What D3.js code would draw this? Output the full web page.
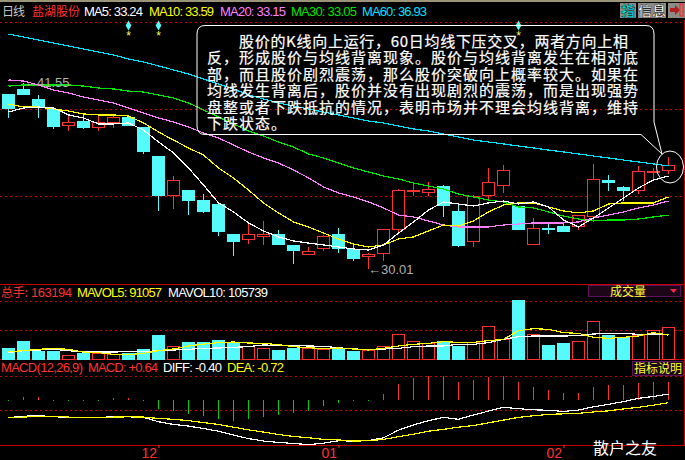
<!DOCTYPE html>
<html>
<head>
<meta charset="utf-8">
<script src="https://cdn.jsdelivr.net/npm/d3@7"></script>
<style>
html, body { margin: 0; padding: 0; background: #000; overflow: hidden; }
svg { display: block; }
text { font-family: "Liberation Sans", Arial, sans-serif; }
.cjk { font-family: "Noto Sans CJK SC", sans-serif; }
</style>
</head>
<body>
<div id="chart"></div>
<script>
// candle data, one entry per trading day
const opens = [40.81,41.12,40.50,39.88,38.94,39.19,38.82,39.07,39.38,38.76,36.96,34.54,34.85,34.23,34.04,32.12,31.81,32.00,32.12,31.44,30.88,31.31,32.12,31.25,30.76,31.00,32.49,34.85,34.73,35.10,33.55,31.69,34.54,35.22,33.86,31.56,32.55,32.62,32.62,33.24,35.53,35.04,34.85,36.06,36.15];
const highs = [40.81,41.55,40.81,40.06,39.50,39.57,39.50,39.63,39.57,38.82,36.96,35.78,34.85,34.66,34.17,32.18,32.80,32.99,32.43,31.44,31.38,32.12,32.55,31.50,31.00,32.49,34.97,35.28,35.41,35.22,34.11,34.60,36.28,36.46,33.86,33.18,32.80,32.80,33.30,36.53,35.84,35.16,36.40,36.28,36.96];
const lows = [39.38,40.81,39.38,38.70,38.57,38.70,38.57,38.76,38.94,37.15,33.61,33.73,33.36,33.49,32.06,30.82,31.56,31.50,31.50,30.32,30.88,31.13,31.00,30.51,30.01,30.51,32.18,34.54,34.54,33.24,31.38,31.38,34.35,34.73,32.49,31.56,32.18,32.31,32.43,33.05,34.85,34.23,34.66,35.53,35.90];
const closes = [39.94,40.81,40.00,38.88,39.13,38.82,39.07,39.38,38.94,37.27,34.60,35.53,34.29,33.55,32.31,31.69,32.12,32.18,31.50,31.13,31.07,32.00,31.31,30.69,30.88,32.43,34.91,34.91,34.97,33.98,31.44,34.48,35.35,36.15,32.49,32.55,32.49,32.31,33.30,35.59,35.35,34.85,36.03,36.09,36.46];

const ma5 = [39.75,40.00,40.06,40.00,39.57,39.38,39.01,39.01,39.07,38.63,37.89,37.21,36.28,35.22,34.11,33.55,32.87,32.37,32.00,31.75,31.62,31.50,31.38,31.25,31.19,31.50,32.24,32.93,33.67,34.17,34.04,33.92,34.11,34.23,34.04,34.17,33.86,33.05,32.62,33.18,33.80,34.42,35.04,35.53,35.78];
const ma10 = [40.25,40.06,40.06,39.94,39.81,39.63,39.57,39.57,39.50,39.07,38.51,38.01,37.52,37.08,36.28,35.66,34.91,34.11,33.49,32.93,32.62,32.24,31.87,31.56,31.38,31.50,31.87,32.00,32.37,32.74,32.68,32.99,33.55,33.98,34.11,34.11,33.86,33.61,33.49,33.61,34.04,34.11,34.11,34.11,34.48];
const ma20 = [41.74,41.67,41.43,41.12,40.93,40.68,40.50,40.31,40.00,39.69,39.38,39.13,38.82,38.45,38.14,37.70,37.27,36.90,36.59,36.15,35.66,35.10,34.73,34.48,34.17,33.80,33.36,33.24,32.99,32.74,32.62,32.62,32.62,32.74,32.80,32.87,32.87,32.87,32.93,33.18,33.36,33.55,33.80,33.98,34.23];
const ma30 = [41.36,41.43,41.43,41.43,41.43,41.36,41.24,41.18,41.05,40.99,40.81,40.62,40.31,39.88,39.44,39.01,38.57,38.26,37.89,37.58,37.15,36.90,36.59,36.28,36.03,35.78,35.59,35.35,35.16,34.97,34.66,34.48,34.29,34.17,33.86,33.80,33.55,33.30,33.11,32.99,33.05,33.05,33.11,33.24,33.36];
const ma60 = [44.59,44.40,44.22,44.03,43.85,43.66,43.47,43.29,43.04,42.85,42.61,42.36,42.11,41.80,41.49,41.18,40.81,40.56,40.31,40.12,39.94,39.75,39.57,39.38,39.19,39.07,38.88,38.70,38.57,38.39,38.20,38.01,37.89,37.77,37.64,37.52,37.39,37.27,37.15,37.02,36.90,36.77,36.65,36.53,36.40];

const volumes = [51000,86700,39100,35700,18700,25500,25500,20400,25500,45900,117300,64600,81600,81600,91800,78200,62900,51000,40800,52700,54400,45900,47600,35700,42500,64600,125800,90100,76500,90100,61200,85000,166600,96900,295800,125800,66300,76500,90100,192100,117300,107100,117300,144500,163194];
const mavol5 = [37400,42500,49300,54400,49300,35700,32300,23800,22100,28900,42500,51000,66300,76500,83300,86700,81600,79900,73100,62900,57800,52700,56100,51000,45900,54400,66300,74800,79900,88400,85000,85000,93500,100300,144500,154700,151300,134300,130900,110500,105400,110500,117300,134300,122400];
const mavol10 = [32300,42500,45900,49300,42500,35700,35700,35700,37400,37400,42500,45900,49300,54400,56100,59500,62900,71400,69700,69700,66300,64600,57800,51000,49300,51000,54400,62900,66300,66300,74800,74800,83300,100300,113900,117300,117300,117300,119000,127500,130900,130900,125800,127500,122400];

const macdHist = [-0.02,0.10,0.10,-0.02,-0.02,-0.02,-0.02,0.08,0.08,-0.04,-0.32,-0.38,-0.49,-0.57,-0.66,-0.73,-0.66,-0.59,-0.53,-0.46,-0.38,-0.21,-0.11,-0.02,-0.02,0.21,0.57,0.78,0.85,0.85,0.64,0.71,0.82,0.84,0.64,0.45,0.36,0.26,0.25,0.46,0.53,0.53,0.60,0.64,0.64];
const diff = [-1.27,-1.22,-1.19,-1.24,-1.25,-1.26,-1.26,-1.24,-1.24,-1.26,-1.42,-1.52,-1.58,-1.67,-1.77,-1.91,-2.04,-2.13,-2.18,-2.22,-2.26,-2.21,-2.12,-2.13,-2.11,-2.01,-1.73,-1.54,-1.38,-1.26,-1.33,-1.17,-1.03,-0.89,-0.94,-0.98,-1.00,-1.04,-0.99,-0.87,-0.78,-0.68,-0.56,-0.49,-0.40];
const dea = [-1.27,-1.25,-1.22,-1.22,-1.25,-1.26,-1.26,-1.25,-1.24,-1.25,-1.30,-1.33,-1.38,-1.45,-1.52,-1.62,-1.72,-1.80,-1.89,-1.96,-2.01,-2.07,-2.09,-2.13,-2.12,-2.07,-1.97,-1.88,-1.77,-1.70,-1.62,-1.56,-1.46,-1.36,-1.26,-1.20,-1.15,-1.13,-1.11,-1.06,-1.02,-0.95,-0.89,-0.81,-0.72];

const monthTicks = [10, 22, 37];
const monthLabels = ["12", "01", "02"];
const signalDays = [8, 10, 34];

const noteLines = [
    "股价的K线向上运行，60日均线下压交叉，两者方向上相",
    "反，形成股价与均线背离现象。股价与均线背离发生在相对底",
    "部，而且股价剧烈震荡，那么股价突破向上概率较大。如果在",
    "均线发生背离后，股价并没有出现剧烈的震荡，而是出现强势",
    "盘整或者下跌抵抗的情况，表明市场并不理会均线背离，维持",
    "下跌状态。"
];

const RED = "#ff3232", CYAN = "#55fbfb", GRID = "#c80000", GREY = "#b0b0b0";

const svg = d3.select("#chart").append("svg")
    .attr("width", 685)
    .attr("height", 460);

svg.append("rect").attr("width", 685).attr("height", 460).attr("fill", "#000");
svg.append("rect").attr("width", 685).attr("height", 2).attr("fill", "#9a9478");

// scales
const x = d3.scaleLinear().domain([0, 44]).range([8.5, 668.5]);
const yPrice = d3.scaleLinear().domain([41.55, 30.01]).range([83, 269]);
const yVol = d3.scaleLinear().domain([0, 163194]).range([359, 327]);
const yHist = d3.scaleLinear().domain([0, 0.64]).range([400, 382]);
const yMacd = d3.scaleLinear().domain([-0.40, -0.72]).range([394, 402.7]);
const days = d3.range(opens.length);
const isUp = i => closes[i] >= opens[i];

// dotted grid lines and panel borders
[22, 109, 196, 301, 330, 376, 410].forEach(y => {
    svg.append("line")
        .attr("x1", 0).attr("x2", 684)
        .attr("y1", y + 0.5).attr("y2", y + 0.5)
        .attr("stroke", GRID)
        .attr("stroke-dasharray", "2 3");
});
[284, 359, 445].forEach(y => {
    svg.append("line")
        .attr("x1", 0).attr("x2", 685)
        .attr("y1", y + 0.5).attr("y2", y + 0.5)
        .attr("stroke", GRID);
});
svg.append("line")
    .attr("x1", 684.5).attr("x2", 684.5)
    .attr("y1", 20).attr("y2", 445)
    .attr("stroke", GRID);

// candles
const candles = svg.append("g").attr("shape-rendering", "crispEdges");
candles.selectAll("line")
    .data(days)
    .enter()
    .append("line")
    .attr("x1", d => x(d)).attr("x2", d => x(d))
    .attr("y1", d => yPrice(highs[d])).attr("y2", d => yPrice(lows[d]))
    .attr("stroke", d => isUp(d) ? RED : CYAN);
candles.selectAll("rect")
    .data(days)
    .enter()
    .append("rect")
    .attr("x", d => x(d) - 6)
    .attr("width", 12)
    .attr("y", d => yPrice(Math.max(opens[d], closes[d])))
    .attr("height", d => Math.max(1, Math.abs(yPrice(opens[d]) - yPrice(closes[d]))))
    .attr("fill", d => isUp(d) ? "#000" : CYAN)
    .attr("stroke", d => isUp(d) ? RED : CYAN);

// moving averages
const priceLine = d3.line().x((d, i) => x(i)).y(d => yPrice(d));
const priceSeries = [[ma60, "#00e0ff"], [ma30, "#00e600"], [ma20, "#ff80ff"], [ma10, "#ffff00"], [ma5, "#ffffff"]];
priceSeries.forEach(([values, color]) => {
    svg.append("path")
        .attr("d", priceLine(values))
        .attr("fill", "none")
        .attr("stroke", color)
        .attr("stroke-width", 1.2)
        .attr("shape-rendering", "crispEdges");
});

// high and low notes
svg.append("text").attr("x", 24).attr("y", 87).attr("fill", GREY).attr("font-size", 13).text("←41.55");
svg.append("text").attr("x", 368).attr("y", 274).attr("fill", GREY).attr("font-size", 13).text("←30.01");

// signal markers along the top
svg.selectAll(".signal")
    .data(signalDays)
    .enter()
    .append("path")
    .attr("class", "signal")
    .attr("d", d3.symbol().type(d3.symbolDiamond).size(28))
    .attr("transform", d => `translate(${x(d)},25.5)`)
    .attr("fill", CYAN);
svg.selectAll(".star")
    .data(signalDays)
    .enter()
    .append("text")
    .attr("class", "star")
    .attr("x", d => x(d))
    .attr("y", 40)
    .attr("text-anchor", "middle")
    .attr("font-size", 12)
    .attr("fill", "#ffff66")
    .text("*");

// volume panel
const volBars = svg.append("g").attr("shape-rendering", "crispEdges");
volBars.selectAll("rect")
    .data(days)
    .enter()
    .append("rect")
    .attr("x", d => x(d) - 6)
    .attr("width", 12)
    .attr("y", d => yVol(volumes[d]))
    .attr("height", d => yVol(0) - yVol(volumes[d]))
    .attr("fill", d => isUp(d) ? "#000" : CYAN)
    .attr("stroke", d => isUp(d) ? RED : CYAN);

const volLine = d3.line().x((d, i) => x(i)).y(d => yVol(d));
[[mavol10, "#ffffff"], [mavol5, "#ffff00"]].forEach(([values, color]) => {
    svg.append("path")
        .attr("d", volLine(values))
        .attr("fill", "none")
        .attr("stroke", color)
        .attr("stroke-width", 1.2)
        .attr("shape-rendering", "crispEdges");
});

// macd panel
svg.append("g").attr("shape-rendering", "crispEdges")
    .selectAll("line")
    .data(days)
    .enter()
    .append("line")
    .attr("x1", d => x(d)).attr("x2", d => x(d))
    .attr("y1", yHist(0))
    .attr("y2", d => yHist(macdHist[d]))
    .attr("stroke", d => macdHist[d] >= 0 ? RED : "#00d000");

const macdLine = d3.line().x((d, i) => x(i)).y(d => yMacd(d));
[[diff, "#ffffff"], [dea, "#ffff00"]].forEach(([values, color]) => {
    svg.append("path")
        .attr("d", macdLine(values))
        .attr("fill", "none")
        .attr("stroke", color)
        .attr("stroke-width", 1.2)
        .attr("shape-rendering", "crispEdges");
});

// month axis
const axis = svg.append("g")
    .attr("transform", "translate(0,445)")
    .call(d3.axisBottom(x)
        .tickValues(monthTicks)
        .tickSize(3)
        .tickFormat((d, i) => monthLabels[i]));
axis.select(".domain").remove();
axis.selectAll("line").attr("stroke", RED);
axis.selectAll("text")
    .attr("fill", RED)
    .attr("font-size", 14)
    .attr("text-anchor", "end")
    .attr("dx", -2)
    .attr("dy", 0)
    .attr("y", 13);

// header and legends
function label(txt, xPos, yPos, color, width, cls) {
    const t = svg.append("text")
        .attr("x", xPos).attr("y", yPos)
        .attr("fill", color)
        .attr("font-size", cls ? 12 : 13)
        .text(txt);
    if (width) t.attr("textLength", width).attr("lengthAdjust", "spacing");
    if (cls) t.attr("class", cls);
    return t;
}
label("日线", 2, 16, "#c8c8c8", 23, "cjk");
label("盐湖股份", 32, 16, RED, 48, "cjk");
label("MA5: 33.24", 84, 16, "#ffffff", 59);
label("MA10: 33.59", 149, 16, "#ffff00", 65);
label("MA20: 33.15", 220, 16, "#ff80ff", 66);
label("MA30: 33.05", 291, 16, "#00e600", 66);
label("MA60: 36.93", 362, 16, "#00e0ff", 65);

label("总手:", 1, 297, RED, 27, "cjk");
label("163194", 31, 297, RED, 41);
label("MAVOL5: 91057", 77, 297, "#ffff00", 85);
label("MAVOL10: 105739", 168, 297, "#ffffff", 100);

label("MACD(12,26,9)", 1, 372, RED, 82);
label("MACD: +0.64", 88, 372, RED, 70);
label("DIFF: -0.40", 163, 372, "#ffffff", 59);
label("DEA: -0.72", 227, 372, "#ffff00", 57);

// toolbar buttons
[[620, 16, "指", "#00e8ff"], [638, 28, "信息", "#ffffff"]].forEach(([bx, bw, txt, color]) => {
    svg.append("rect")
        .attr("x", bx).attr("y", 3)
        .attr("width", bw).attr("height", 15)
        .attr("fill", "#8c8c84");
    svg.append("text")
        .attr("class", "cjk")
        .attr("x", bx + bw / 2).attr("y", 16)
        .attr("text-anchor", "middle")
        .attr("font-size", 14)
        .attr("font-weight", "bold")
        .attr("fill", color)
        .attr("stroke", "#000")
        .attr("stroke-width", 0.4)
        .text(txt);
});
svg.append("rect").attr("x", 668).attr("y", 3).attr("width", 17).attr("height", 15).attr("fill", "#8c8c84");
svg.append("path").attr("d", "M670,8h5v-3l5,5l-5,5v-3h-5z").attr("fill", "#b02020");
svg.append("rect").attr("x", 680).attr("y", 4).attr("width", 3).attr("height", 12)
    .attr("fill", "none").attr("stroke", "#ff2020");

// panel tags
svg.append("rect").attr("x", 588.5).attr("y", 285.5).attr("width", 92).attr("height", 11)
    .attr("fill", "#1c0618").attr("stroke", "#60105c");
svg.append("text").attr("class", "cjk").attr("x", 628).attr("y", 296)
    .attr("text-anchor", "middle").attr("font-size", 12).attr("fill", "#ffff33").text("成交量");
svg.append("path").attr("d", "M670,289h7l-3.5,4z").attr("fill", "#ff2050");

svg.append("rect").attr("x", 632.5).attr("y", 361.5).attr("width", 51).attr("height", 14)
    .attr("fill", "#1c0618").attr("stroke", "#60105c");
svg.append("text").attr("class", "cjk").attr("x", 658).attr("y", 373)
    .attr("text-anchor", "middle").attr("font-size", 12).attr("fill", "#ffff33").text("指标说明");

// callout with the explanation
svg.append("path")
    .attr("d", "M205,25.5H646Q654,25.5 654,34V122L662,154L641,134.5H205Q197,134.5 197,126V34Q197,25.5 205,25.5Z")
    .attr("fill", "none")
    .attr("stroke", "#ffffff");
svg.selectAll(".note")
    .data(noteLines)
    .enter()
    .append("text")
    .attr("class", "note cjk")
    .attr("x", (d, i) => i === 0 ? 239 : 207)
    .attr("y", (d, i) => 47 + i * 16.4)
    .attr("font-size", 15)
    .attr("letter-spacing", 1)
    .attr("fill", "#ffffff")
    .attr("stroke", "#ffffff")
    .attr("stroke-width", 0.2)
    .each(function(d, i) {
        if (i === 0) d3.select(this).attr("textLength", 390).attr("lengthAdjust", "spacing");
    })
    .text(d => d);

// circle around the last candle
svg.append("ellipse")
    .attr("cx", 670).attr("cy", 167)
    .attr("rx", 13.5).attr("ry", 16)
    .attr("fill", "none")
    .attr("stroke", "#ffffff");

svg.append("text").attr("class", "cjk")
    .attr("x", 593).attr("y", 454)
    .attr("font-size", 16)
    .attr("fill", "#ffffff")
    .text("散户之友");
</script>
</body>
</html>
